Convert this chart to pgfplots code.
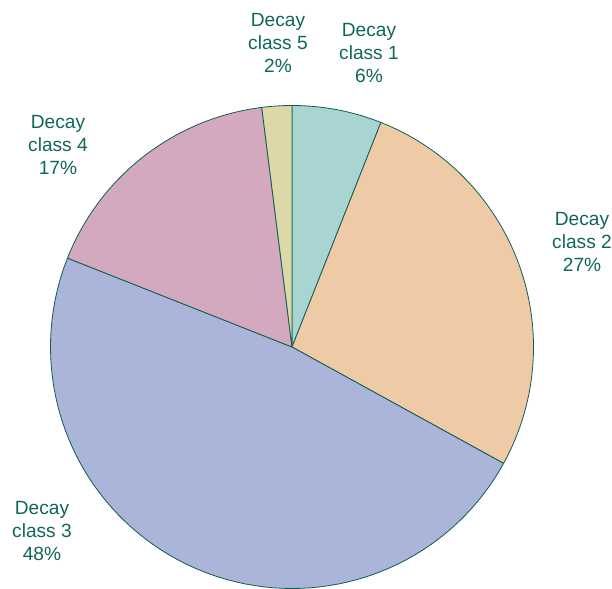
\documentclass[border=0pt]{standalone}
\usepackage{fontspec}
\setmainfont{Liberation Sans}
\usepackage{pgfplots}
\usepackage{pgfplotstable}
\pgfplotsset{compat=1.18}
\definecolor{txt}{HTML}{11665A}
\definecolor{edge}{HTML}{0E5C52}
\definecolor{c1}{HTML}{A8D5D2}
\definecolor{c2}{HTML}{EECAA7}
\definecolor{c3}{HTML}{ABB5DA}
\definecolor{c4}{HTML}{D4A9C0}
\definecolor{c5}{HTML}{DCD8A8}
% percent share of each decay class, clockwise from 12 o'clock
\pgfplotstableread{
cls pct
1 6
2 27
3 48
4 17
5 2
}\piedata
\begin{document}
\begin{tikzpicture}
\begin{axis}[
  scale only axis, width=612bp, height=589bp,
  xmin=0, xmax=612, ymin=0, ymax=589,
  hide axis, clip=false,
]
\pgfmathsetmacro{\cx}{292}
\pgfmathsetmacro{\cy}{242}
\pgfmathsetmacro{\R}{241.5}
\def\start{90}
\foreach \i/\col in {0/c1,1/c2,2/c3,3/c4,4/c5}{
  \pgfplotstablegetelem{\i}{pct}\of\piedata
  \pgfmathsetmacro{\sweep}{3.6*\pgfplotsretval}
  \pgfmathsetmacro{\stop}{\start-\sweep}
  \edef\tmp{\noexpand\addplot[fill=\col, draw=edge, line width=0.8pt, domain=\stop:\start, samples=80, variable=\noexpand\t]
    ({\cx+\R*cos(\noexpand\t)},{\cy+\R*sin(\noexpand\t)}) -- (axis cs:\cx,\cy) -- cycle;}
  \tmp
  \xdef\start{\stop}
}
\tikzset{lab/.style={text=txt, font=\fontsize{19.2}{23.5}\selectfont, align=center, inner sep=0pt}}
\node[lab] at (axis cs:278,546) {Decay\\class 5\\2\%};
\node[lab] at (axis cs:369,536) {Decay\\class 1\\6\%};
\node[lab] at (axis cs:582,347) {Decay\\class 2\\27\%};
\node[lab] at (axis cs:58,444) {Decay\\class 4\\17\%};
\node[lab] at (axis cs:42,58) {Decay\\class 3\\48\%};
\end{axis}
\pgfresetboundingbox
\path[use as bounding box] (current axis.south west) rectangle (current axis.north east);
\end{tikzpicture}
\end{document}
